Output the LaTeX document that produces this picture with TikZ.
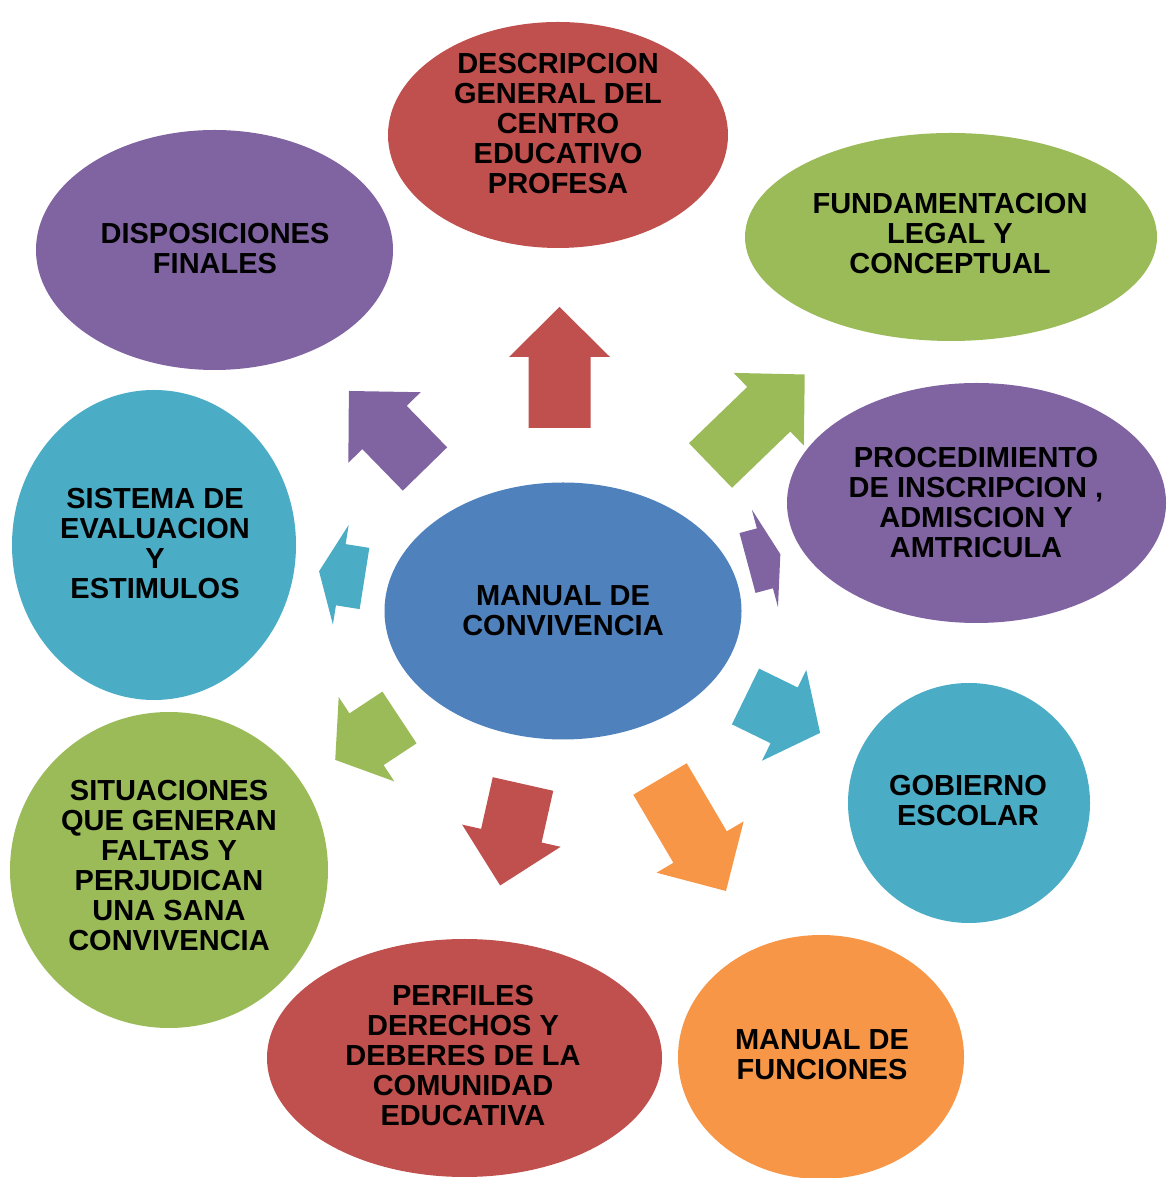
\documentclass[tikz,border=0pt]{standalone}
\usepackage{fontspec}
\setmainfont{Liberation Sans}
\usetikzlibrary{shapes.geometric}
\definecolor{cred}{HTML}{C0504D}
\definecolor{cgreen}{HTML}{9BBB59}
\definecolor{cpurple}{HTML}{8064A2}
\definecolor{ccyan}{HTML}{4BACC6}
\definecolor{cblue}{HTML}{4F81BD}
\definecolor{corange}{HTML}{F79646}
\tikzset{
  bubble/.style={ellipse, draw=none, inner sep=0pt},
  lbl/.style={align=center, text=black, inner sep=0pt, font=\bfseries\fontsize{29}{30}\selectfont},
  pics/barrow/.style 2 args={code={
    \fill[pic actions] (0,-31) -- ({#1-#2},-31) -- ({#1-#2},-50.5) -- (#1,0)
      -- ({#1-#2},50.5) -- ({#1-#2},31) -- (0,31) -- cycle;
  }}
}
\begin{document}
\begin{tikzpicture}[x=1pt,y=1pt]
\useasboundingbox (0,0) rectangle (1170,1178);
% ellipses
\node[bubble, fill=cblue,   minimum width=357, minimum height=257] (e0) at (563,567) {};
\node[bubble, fill=cred,    minimum width=340, minimum height=226] (e1) at (558,1043) {};
\node[bubble, fill=cgreen,  minimum width=412, minimum height=208] (e2) at (951,941) {};
\node[bubble, fill=cpurple, minimum width=379, minimum height=240] (e3) at (976.5,675) {};
\node[bubble, fill=ccyan,   minimum width=242, minimum height=240] (e4) at (969,375) {};
\node[bubble, fill=corange, minimum width=286, minimum height=244] (e5) at (821,121) {};
\node[bubble, fill=cred,    minimum width=395, minimum height=238] (e6) at (464.5,120) {};
\node[bubble, fill=cgreen,  minimum width=318, minimum height=316] (e7) at (169,308) {};
\node[bubble, fill=ccyan,   minimum width=284, minimum height=310] (e8) at (154,633) {};
\node[bubble, fill=cpurple, minimum width=357, minimum height=240] (e9) at (214.5,928) {};
% block arrows
\pic[fill=cred,    rotate=90]     at (559.5,750)  {barrow={121}{50}};
\pic[fill=cgreen,  rotate=44]     at (710.5,712.5){barrow={131}{50}};
\pic[fill=cpurple, rotate=15]     at (747.5,615)  {barrow={34}{16}};
\pic[fill=ccyan,   rotate=-26]    at (745.5,481.5){barrow={83}{40}};
\pic[fill=corange, rotate=-59.5]  at (660,399)    {barrow={130}{51}};
\pic[fill=cred,    rotate=-102.7] at (523,394)    {barrow={104}{51}};
\pic[fill=cgreen,  rotate=213.4]  at (399.5,460.5){barrow={77}{37.5}};
\pic[fill=ccyan,   rotate=171]    at (364.5,599.5){barrow={46}{22}};
\pic[fill=cpurple, rotate=134.3]  at (425,709)    {barrow={109}{51}};
% labels
\node[lbl] (t0) at (563,567) {MANUAL DE\\CONVIVENCIA};
\node[lbl] (t1) at (558,1054) {DESCRIPCION\\GENERAL DEL\\CENTRO\\EDUCATIVO\\PROFESA};
\node[lbl] (t2) at (950,944) {FUNDAMENTACION\\LEGAL Y\\CONCEPTUAL};
\node[lbl] (t3) at (976,675) {PROCEDIMIENTO\\DE INSCRIPCION ,\\ADMISCION Y\\AMTRICULA};
\node[lbl] (t4) at (968,377) {GOBIERNO\\ESCOLAR};
\node[lbl] (t5) at (822,123) {MANUAL DE\\FUNCIONES};
\node[lbl] (t6) at (463,122) {PERFILES\\DERECHOS Y\\DEBERES DE LA\\COMUNIDAD\\EDUCATIVA};
\node[lbl] (t7) at (169,312) {SITUACIONES\\QUE GENERAN\\FALTAS Y\\PERJUDICAN\\UNA SANA\\CONVIVENCIA};
\node[lbl] (t8) at (155,634) {SISTEMA DE\\EVALUACION\\Y\\ESTIMULOS};
\node[lbl] (t9) at (215,929) {DISPOSICIONES\\FINALES};
\end{tikzpicture}
\end{document}
